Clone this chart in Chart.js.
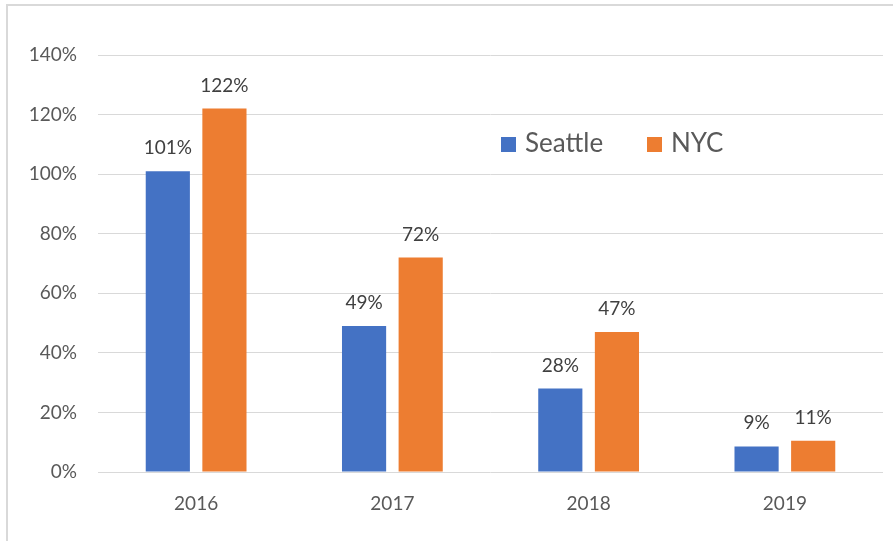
<!DOCTYPE html>
<html>
<head>
<meta charset="utf-8">
<script src="https://cdn.jsdelivr.net/npm/chart.js@4/dist/chart.umd.min.js"></script>
<style>
  html, body { margin: 0; padding: 0; background: #fff; }
  #wrap { position: relative; width: 893px; height: 541px; overflow: hidden; }
  #frame { position: absolute; left: 6px; top: 4px; width: 900px; height: 560px;
           border-left: 2px solid #d9d9d9; border-top: 2px solid #d9d9d9; box-sizing: border-box; }
  canvas { position: absolute; left: 0; top: 0; }
</style>
</head>
<body>
<div id="wrap">
  <div id="frame"></div>
  <canvas id="chart" width="893" height="541"></canvas>
</div>
<script>
// chart data
const years = ['2016', '2017', '2018', '2019'];
const seattle = [1.01, 0.49, 0.28, 0.086];
const nyc = [1.22, 0.72, 0.47, 0.105];
const seriesNames = ['Seattle', 'NYC'];
const seriesColors = ['#4472C4', '#ED7D31'];

const FONT = 'Lato, "Open Sans", sans-serif';
const pct = v => Math.round(v * 100) + '%';

// value labels above each bar
const barLabels = {
  id: 'barLabels',
  afterDatasetsDraw(chart) {
    const ctx = chart.ctx;
    ctx.save();
    ctx.font = '19px ' + FONT;
    ctx.fillStyle = '#404040';
    ctx.textAlign = 'center';
    ctx.textBaseline = 'alphabetic';
    chart.data.datasets.forEach((ds, i) => {
      chart.getDatasetMeta(i).data.forEach((bar, j) => {
        ctx.fillText(pct(ds.data[j]), bar.x, bar.y - 17);
      });
    });
    ctx.restore();
  }
};

// legend sitting inside the plot area, like the Excel original
const innerLegend = {
  id: 'innerLegend',
  afterDraw(chart) {
    const ctx = chart.ctx;
    ctx.save();
    ctx.font = '26px ' + FONT;
    ctx.textBaseline = 'middle';
    ctx.fillStyle = '#595959';
    let x = 501;
    const y = 144;
    chart.data.datasets.forEach(ds => {
      ctx.fillStyle = ds.backgroundColor;
      ctx.fillRect(x, y - 7, 15, 15);
      ctx.fillStyle = '#595959';
      ctx.fillText(ds.label, x + 24, y);
      x += 146;
    });
    ctx.restore();
  }
};

new Chart(document.getElementById('chart'), {
  type: 'bar',
  data: {
    labels: years,
    datasets: [
      { label: seriesNames[0], data: seattle, backgroundColor: seriesColors[0] },
      { label: seriesNames[1], data: nyc, backgroundColor: seriesColors[1] }
    ]
  },
  options: {
    responsive: false,
    animation: false,
    devicePixelRatio: 1,
    layout: { padding: { left: 0, right: 10, top: 55, bottom: 0 } },
    datasets: { bar: { categoryPercentage: 0.577, barPercentage: 0.78 } },
    plugins: { legend: { display: false }, tooltip: { enabled: false } },
    scales: {
      x: {
        grid: { display: false, drawTicks: false },
        border: { display: false },
        ticks: { color: '#595959', font: { family: FONT, size: 19 }, padding: 20 },
        afterFit: s => { s.height = 69; }
      },
      y: {
        min: 0,
        max: 1.4,
        grid: { color: '#d9d9d9', lineWidth: 1, drawTicks: false },
        border: { display: false },
        ticks: {
          stepSize: 0.2,
          color: '#595959',
          font: { family: FONT, size: 19 },
          padding: 21,
          callback: v => pct(v)
        },
        afterFit: s => { s.width = 98; }
      }
    }
  },
  plugins: [barLabels, innerLegend]
});
</script>
</body>
</html>
